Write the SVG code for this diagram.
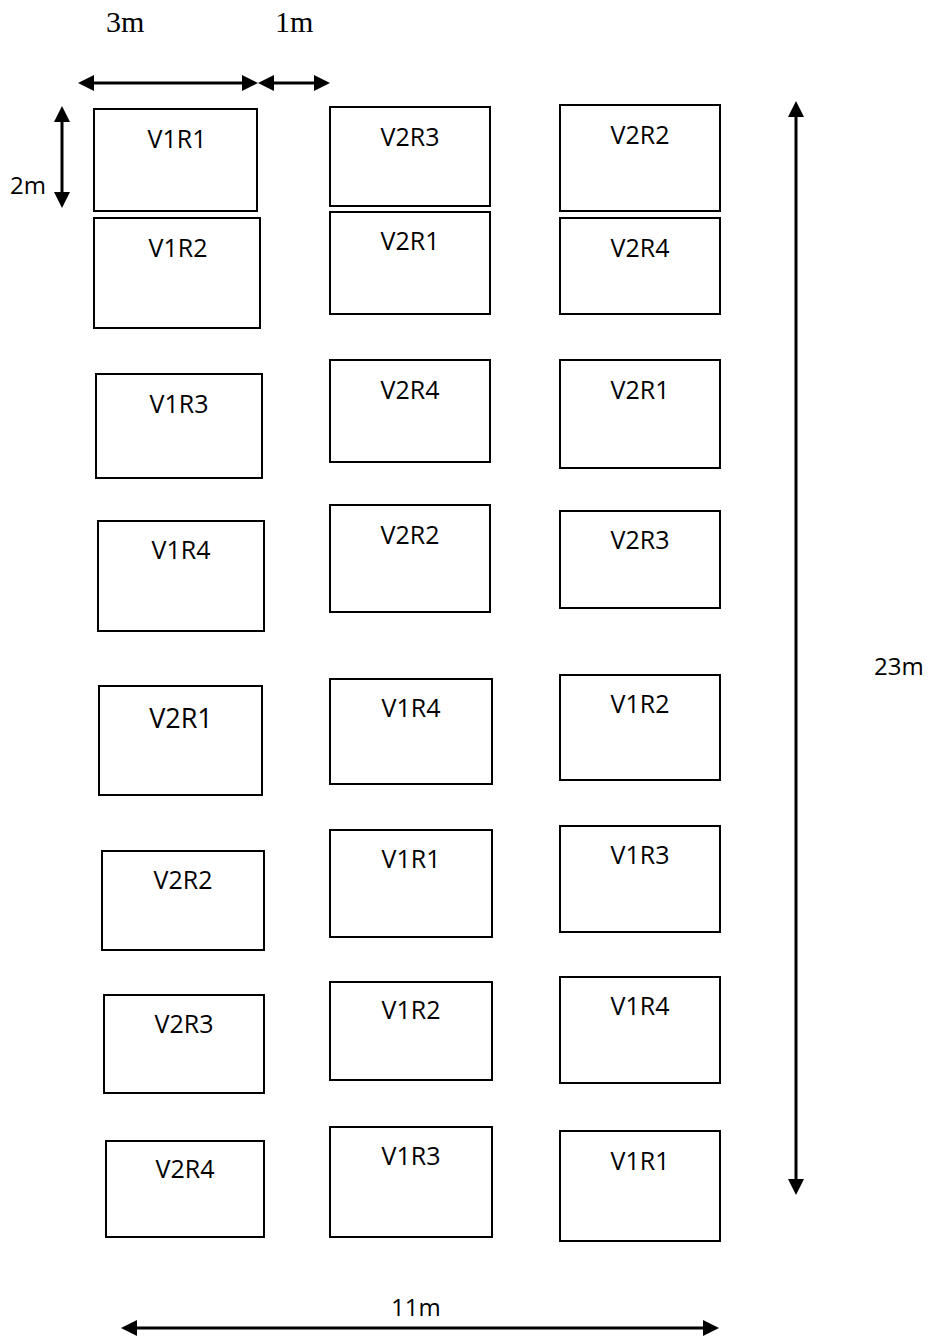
<svg xmlns="http://www.w3.org/2000/svg" width="932" height="1340" viewBox="0 0 932 1340">
<style>
.box{fill:#fff;stroke:#000;stroke-width:2}
.lbl{font-family:"Open Sans","Liberation Sans",sans-serif;font-size:25px;fill:#000;text-anchor:middle}
.big{font-size:27px}
.dim{stroke:#000;stroke-width:3;fill:none;marker-start:url(#ah);marker-end:url(#ah)}
.ser{font-family:"Liberation Serif",serif;font-size:30px;fill:#000}
.san{font-family:"Open Sans","Liberation Sans",sans-serif;font-size:24px;fill:#000}
</style>
<defs>
<marker id="ah" viewBox="0 0 16 16" refX="2" refY="8" markerWidth="16" markerHeight="16" markerUnits="userSpaceOnUse" orient="auto-start-reverse">
<path d="M0,0 L16,8 L0,16 z" fill="#000"/>
</marker>
</defs>
<g id="col1">
<g id="c1r1"><rect class="box" x="94" y="109" width="163" height="102"/><text class="lbl" x="177" y="148">V1R1</text></g>
<g id="c1r2"><rect class="box" x="94" y="218" width="166" height="110"/><text class="lbl" x="178" y="257">V1R2</text></g>
<g id="c1r3"><rect class="box" x="96" y="374" width="166" height="104"/><text class="lbl" x="179" y="413">V1R3</text></g>
<g id="c1r4"><rect class="box" x="98" y="521" width="166" height="110"/><text class="lbl" x="181" y="559">V1R4</text></g>
<g id="c1r5"><rect class="box" x="99" y="686" width="163" height="109"/><text class="lbl big" x="181" y="728">V2R1</text></g>
<g id="c1r6"><rect class="box" x="102" y="851" width="162" height="99"/><text class="lbl" x="183" y="889">V2R2</text></g>
<g id="c1r7"><rect class="box" x="104" y="995" width="160" height="98"/><text class="lbl" x="184" y="1033">V2R3</text></g>
<g id="c1r8"><rect class="box" x="106" y="1141" width="158" height="96"/><text class="lbl" x="185" y="1178">V2R4</text></g>
</g>
<g id="col2">
<g id="c2r1"><rect class="box" x="330" y="107" width="160" height="99"/><text class="lbl" x="410" y="146">V2R3</text></g>
<g id="c2r2"><rect class="box" x="330" y="212" width="160" height="102"/><text class="lbl" x="410" y="250">V2R1</text></g>
<g id="c2r3"><rect class="box" x="330" y="360" width="160" height="102"/><text class="lbl" x="410" y="399">V2R4</text></g>
<g id="c2r4"><rect class="box" x="330" y="505" width="160" height="107"/><text class="lbl" x="410" y="544">V2R2</text></g>
<g id="c2r5"><rect class="box" x="330" y="679" width="162" height="105"/><text class="lbl" x="411" y="717">V1R4</text></g>
<g id="c2r6"><rect class="box" x="330" y="830" width="162" height="107"/><text class="lbl" x="411" y="868">V1R1</text></g>
<g id="c2r7"><rect class="box" x="330" y="982" width="162" height="98"/><text class="lbl" x="411" y="1019">V1R2</text></g>
<g id="c2r8"><rect class="box" x="330" y="1127" width="162" height="110"/><text class="lbl" x="411" y="1165">V1R3</text></g>
</g>
<g id="col3">
<g id="c3r1"><rect class="box" x="560" y="105" width="160" height="106"/><text class="lbl" x="640" y="144">V2R2</text></g>
<g id="c3r2"><rect class="box" x="560" y="218" width="160" height="96"/><text class="lbl" x="640" y="257">V2R4</text></g>
<g id="c3r3"><rect class="box" x="560" y="360" width="160" height="108"/><text class="lbl" x="640" y="399">V2R1</text></g>
<g id="c3r4"><rect class="box" x="560" y="511" width="160" height="97"/><text class="lbl" x="640" y="549">V2R3</text></g>
<g id="c3r5"><rect class="box" x="560" y="675" width="160" height="105"/><text class="lbl" x="640" y="713">V1R2</text></g>
<g id="c3r6"><rect class="box" x="560" y="826" width="160" height="106"/><text class="lbl" x="640" y="864">V1R3</text></g>
<g id="c3r7"><rect class="box" x="560" y="977" width="160" height="106"/><text class="lbl" x="640" y="1015">V1R4</text></g>
<g id="c3r8"><rect class="box" x="560" y="1131" width="160" height="110"/><text class="lbl" x="640" y="1170">V1R1</text></g>
</g>
<g id="connectors">
<line class="dim" x1="92" y1="83" x2="244" y2="83"/>
<line class="dim" x1="272" y1="83" x2="316" y2="83"/>
<line class="dim" x1="62" y1="120" x2="62" y2="194"/>
<line class="dim" x1="796" y1="115" x2="796" y2="1181"/>
<line class="dim" x1="135" y1="1328" x2="705" y2="1328"/>
</g>
<g id="labels">
<text class="ser" x="106" y="32">3m</text>
<text class="ser" x="275" y="32">1m</text>
<text class="san" x="10" y="194">2m</text>
<text class="san" x="874" y="675">23m</text>
<text class="san" x="391" y="1316">11m</text>
</g>
</svg>
